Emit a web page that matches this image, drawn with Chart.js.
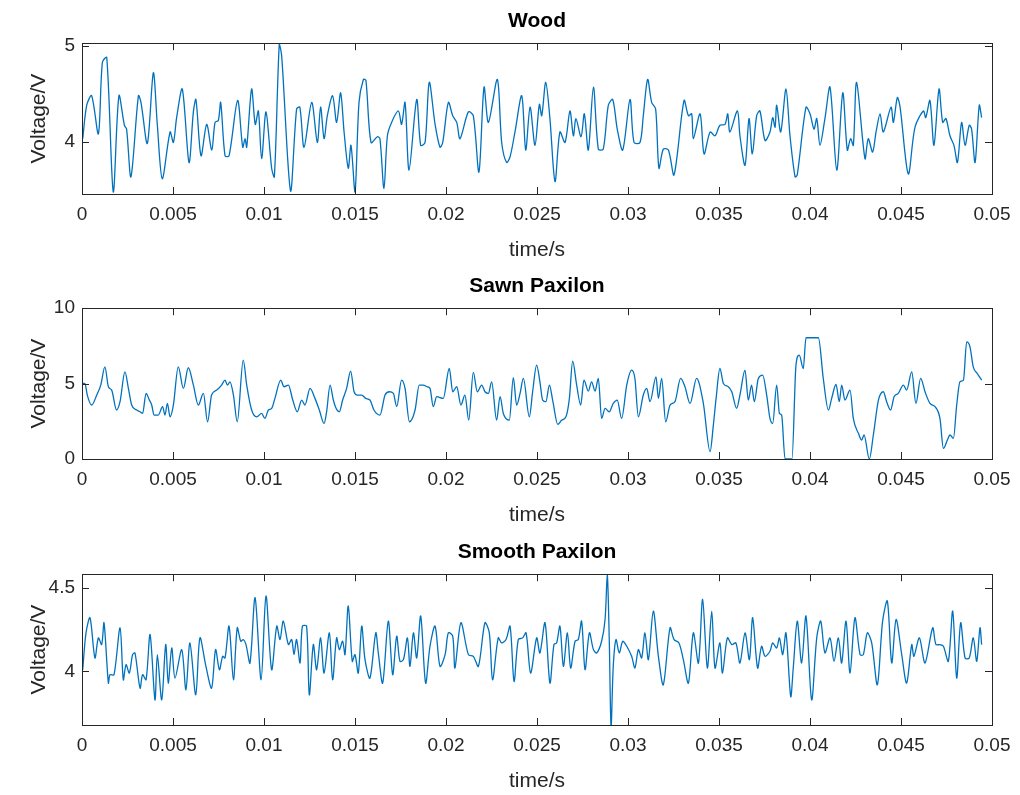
<!DOCTYPE html>
<html>
<head>
<meta charset="utf-8">
<script src="https://cdn.jsdelivr.net/npm/chart.js@4.4.1/dist/chart.umd.min.js"></script>
<style>
  html, body { margin: 0; padding: 0; background: #fff; }
  #wrap { position: relative; width: 1020px; height: 795px; }
  canvas { position: absolute; left: 0; }
</style>
</head>
<body>
<div id="wrap">
  <canvas id="woodChart" width="1020" height="265" style="top:0px"></canvas>
  <canvas id="sawnChart" width="1020" height="265" style="top:265px"></canvas>
  <canvas id="smoothChart" width="1020" height="265" style="top:531px"></canvas>
</div>
<script>
// valeurs : [temps en ms, tension en V]
const woodPoints = [
  [0.04,4.03],[0.26,4.38],[0.53,4.48],[0.90,4.08],[1.12,4.83],[1.36,4.88],[1.72,3.47],[2.03,4.48],[2.33,4.17],[2.45,4.13],
  [2.69,3.63],[3.10,4.48],[3.24,4.41],[3.59,3.98],[3.92,4.72],[4.14,4.17],[4.41,3.61],[4.84,4.10],[5.02,3.99],[5.20,4.25],
  [5.51,4.55],[5.88,3.78],[6.12,4.31],[6.26,4.44],[6.54,3.85],[6.85,4.18],[7.13,3.91],[7.31,4.20],[7.49,4.22],[7.62,4.41],
  [7.86,3.85],[8.08,3.85],[8.55,4.43],[8.83,3.94],[8.96,4.03],[9.05,3.94],[9.32,4.55],[9.52,4.18],[9.69,4.32],[9.87,3.82],
  [10.11,4.31],[10.42,3.72],[10.57,3.63],[10.84,5.02],[10.97,4.90],[11.46,3.48],[11.79,4.34],[11.97,4.36],[12.20,3.94],[12.62,4.41],
  [12.93,3.99],[13.11,4.36],[13.30,4.03],[13.48,4.27],[13.77,4.48],[13.99,4.20],[14.21,4.51],[14.40,4.10],[14.63,3.72],[14.78,3.96],
  [15.00,3.47],[15.22,4.41],[15.46,4.65],[15.60,4.64],[15.88,3.99],[16.23,4.05],[16.37,4.03],[16.59,3.51],[16.78,4.06],[17.01,4.20],
  [17.38,4.32],[17.56,4.18],[17.75,4.41],[17.97,3.70],[18.39,4.44],[18.61,3.96],[18.85,3.99],[19.08,4.62],[19.40,4.18],[19.67,3.94],
  [19.82,3.99],[20.13,4.41],[20.37,4.27],[20.59,4.20],[20.77,4.03],[21.23,4.31],[21.50,4.27],[21.81,3.68],[22.09,4.57],[22.33,4.20],
  [22.82,4.65],[23.06,3.99],[23.33,3.78],[23.52,3.84],[23.79,4.10],[24.16,4.48],[24.38,3.91],[24.62,4.36],[24.89,3.96],[25.13,4.39],
  [25.26,4.27],[25.48,4.62],[25.71,4.24],[25.99,3.58],[26.26,4.10],[26.54,3.99],[26.81,4.32],[27.00,4.06],[27.14,4.24],[27.42,4.05],
  [27.60,4.29],[27.82,3.91],[28.10,4.57],[28.37,3.92],[28.64,3.92],[28.92,4.38],[29.16,4.44],[29.41,4.13],[29.71,3.91],[30.11,4.44],
  [30.33,3.99],[30.66,3.99],[30.84,4.27],[31.08,4.65],[31.30,4.41],[31.52,4.34],[31.70,3.72],[31.94,3.92],[32.22,3.91],[32.53,3.65],
  [33.08,4.43],[33.32,4.27],[33.50,4.29],[33.59,4.03],[33.96,4.29],[34.18,3.87],[34.51,4.10],[34.78,4.06],[35.05,4.17],[35.33,4.18],
  [35.48,4.29],[35.60,4.10],[36.01,4.32],[36.15,4.06],[36.43,3.75],[36.65,4.24],[36.83,3.87],[37.07,4.27],[37.25,4.32],[37.53,4.01],
  [37.80,4.10],[37.95,4.25],[38.08,4.15],[38.17,4.38],[38.39,4.10],[38.68,4.55],[38.90,4.06],[39.18,3.63],[39.30,3.65],[39.78,4.36],
  [40.00,4.29],[40.22,4.13],[40.37,4.24],[40.55,3.96],[40.82,4.24],[41.10,4.57],[41.47,3.70],[41.80,4.51],[42.05,3.91],[42.23,4.03],
  [42.38,3.96],[42.56,4.62],[43.02,3.82],[43.20,4.03],[43.44,3.89],[43.63,4.10],[43.85,4.29],[44.03,4.10],[44.45,4.36],[44.58,4.20],
  [44.80,4.46],[44.95,4.36],[45.40,3.66],[45.77,4.15],[46.23,4.32],[46.36,4.25],[46.59,4.43],[46.81,3.96],[47.09,4.55],[47.29,4.20],
  [47.47,4.24],[47.69,4.06],[47.91,3.96],[48.10,3.78],[48.33,4.20],[48.52,3.96],[48.75,4.17],[48.88,4.13],[49.07,3.78],[49.30,4.38],
  [49.43,4.25]
];

const sawnPoints = [
  [0.04,5.01],[0.16,5.01],[0.29,4.24],[0.53,3.58],[0.81,4.24],[1.03,4.90],[1.26,6.11],[1.45,4.79],[1.63,4.57],[1.90,3.25],
  [2.09,3.80],[2.36,5.78],[2.55,4.68],[2.73,3.58],[3.00,3.25],[3.19,3.13],[3.33,3.02],[3.52,4.35],[3.70,3.91],[3.83,3.58],
  [3.96,2.91],[4.19,2.91],[4.43,3.47],[4.56,2.91],[4.69,3.69],[4.84,2.80],[5.02,3.58],[5.29,6.11],[5.57,4.68],[5.84,6.05],
  [6.12,4.90],[6.39,3.58],[6.67,4.35],[6.90,2.47],[7.12,4.24],[7.40,4.57],[7.67,4.90],[7.86,5.23],[7.99,4.90],[8.13,5.12],
  [8.32,4.24],[8.53,2.47],[8.86,6.56],[9.05,4.90],[9.32,3.25],[9.60,2.80],[9.87,3.02],[10.05,2.69],[10.24,3.25],[10.42,3.36],
  [10.60,4.02],[10.92,5.23],[11.10,4.79],[11.34,4.90],[11.58,3.91],[11.83,3.13],[12.07,3.91],[12.25,3.58],[12.53,4.68],[12.80,4.02],
  [13.04,3.25],[13.30,2.36],[13.44,3.13],[13.63,4.90],[13.81,3.91],[13.96,3.36],[14.14,3.13],[14.32,3.91],[14.54,4.68],[14.76,5.83],
  [14.95,4.46],[15.13,4.24],[15.37,4.24],[15.59,4.02],[15.82,3.91],[16.04,3.25],[16.37,2.91],[16.65,4.24],[16.89,4.46],[17.11,4.35],
  [17.29,3.47],[17.56,5.23],[17.75,4.68],[17.99,2.47],[18.30,3.25],[18.53,4.90],[18.75,4.90],[18.97,4.79],[19.12,4.68],[19.30,3.47],
  [19.49,4.13],[19.85,4.02],[20.18,6.00],[20.37,4.46],[20.59,4.79],[20.82,3.58],[21.04,4.24],[21.25,2.58],[21.50,5.74],[21.72,4.46],
  [21.96,4.90],[22.14,4.46],[22.33,4.35],[22.51,5.12],[22.78,2.58],[22.97,4.13],[23.15,3.02],[23.48,2.58],[23.70,5.39],[23.88,3.58],
  [24.07,4.35],[24.25,5.34],[24.58,2.80],[24.76,4.46],[24.98,6.23],[25.16,5.12],[25.31,3.91],[25.49,3.80],[25.68,4.90],[25.86,3.91],
  [26.14,2.30],[26.36,2.58],[26.59,2.80],[26.78,4.02],[26.96,6.49],[27.18,4.90],[27.40,3.58],[27.58,5.23],[27.82,4.50],[28.00,5.12],
  [28.19,4.50],[28.37,5.34],[28.55,2.69],[28.74,3.36],[28.97,3.13],[29.19,3.69],[29.41,3.91],[29.65,2.69],[29.93,4.90],[30.20,5.89],
  [30.38,5.34],[30.57,2.80],[30.84,4.24],[31.03,4.68],[31.21,3.80],[31.54,5.45],[31.67,4.02],[31.85,5.34],[32.07,2.47],[32.31,3.58],
  [32.58,3.80],[32.89,5.34],[33.13,4.79],[33.41,3.69],[33.77,5.34],[34.14,3.69],[34.51,0.49],[34.69,2.25],[34.84,4.02],[35.05,6.00],
  [35.24,5.01],[35.51,4.79],[35.70,4.46],[35.97,3.36],[36.15,4.24],[36.43,5.89],[36.61,3.91],[36.79,4.90],[36.94,3.80],[37.16,5.34],
  [37.40,5.56],[37.62,4.24],[37.80,2.69],[37.95,2.36],[38.17,4.90],[38.32,3.02],[38.44,2.91],[38.63,0],[39.01,0],[39.23,6.23],
  [39.41,6.89],[39.63,6.00],[39.78,8.04],[40.46,8.04],[40.73,5.34],[41.01,3.25],[41.19,4.02],[41.43,4.94],[41.61,3.80],[41.74,4.90],
  [41.92,3.91],[42.20,4.57],[42.38,2.69],[42.66,1.70],[42.84,1.26],[42.97,1.59],[43.26,0],[43.48,1.59],[43.76,3.91],[44.03,4.46],
  [44.21,3.80],[44.43,3.25],[44.62,4.13],[44.85,4.35],[45.13,4.90],[45.31,4.57],[45.59,5.78],[45.82,3.69],[46.08,5.34],[46.32,4.46],
  [46.59,3.69],[46.87,3.47],[47.14,2.69],[47.33,0.71],[47.55,1.26],[47.69,1.59],[47.88,1.37],[48.06,3.58],[48.24,5.12],[48.43,5.23],
  [48.61,7.77],[48.79,7.44],[48.97,6.11],[49.19,5.67],[49.43,5.23]
];

const smoothPoints = [
  [0.04,4.01],[0.22,4.23],[0.44,4.32],[0.71,4.08],[0.90,4.20],[1.08,4.16],[1.21,4.29],[1.45,3.93],[1.54,3.98],[1.76,3.98],
  [2.09,4.26],[2.27,3.95],[2.42,4.04],[2.60,3.99],[2.78,4.10],[2.91,4.11],[3.19,3.90],[3.33,3.98],[3.52,3.95],[3.74,4.22],
  [4.01,3.83],[4.14,4.10],[4.38,3.83],[4.60,4.16],[4.74,3.93],[4.93,4.14],[5.11,3.96],[5.48,4.13],[5.71,3.89],[5.93,4.17],
  [6.25,3.86],[6.48,4.20],[6.81,4.03],[7.12,3.90],[7.34,4.13],[7.55,4.01],[7.73,4.09],[7.86,4.08],[8.08,4.27],[8.32,3.95],
  [8.53,4.26],[8.72,4.18],[8.86,4.19],[9.01,4.16],[9.23,4.05],[9.51,4.44],[9.84,3.95],[10.11,4.45],[10.42,4.01],[10.70,4.27],
  [10.88,4.19],[11.06,4.30],[11.34,4.16],[11.52,4.19],[11.65,4.10],[11.79,4.19],[11.98,4.05],[12.11,4.27],[12.34,4.27],[12.49,3.86],
  [12.71,4.16],[12.89,4.01],[13.11,4.20],[13.30,3.99],[13.59,4.23],[13.77,3.95],[13.99,4.20],[14.14,4.13],[14.32,4.18],[14.45,4.10],
  [14.63,4.39],[14.85,4.06],[15.00,4.10],[15.18,3.99],[15.37,4.27],[15.55,4.07],[15.82,3.96],[16.14,4.23],[16.28,4.11],[16.52,3.93],
  [16.83,4.30],[17.07,3.98],[17.29,4.21],[17.47,4.06],[17.66,4.07],[17.88,4.20],[18.02,4.03],[18.21,4.23],[18.39,4.08],[18.61,4.33],
  [18.88,3.93],[19.12,4.15],[19.40,4.27],[19.67,4.03],[19.95,4.10],[20.13,4.23],[20.37,4.21],[20.49,4.02],[20.82,4.29],[21.23,4.10],
  [21.50,4.09],[21.78,4.03],[22.14,4.29],[22.38,4.23],[22.56,3.95],[22.87,4.20],[23.06,4.17],[23.30,4.19],[23.52,4.27],[23.74,3.94],
  [23.97,4.19],[24.21,4.20],[24.40,4.23],[24.65,3.99],[24.98,4.20],[25.16,4.11],[25.44,4.29],[25.71,3.93],[25.93,4.16],[26.08,4.17],
  [26.26,4.27],[26.45,4.03],[26.67,4.23],[26.85,4.02],[27.09,4.18],[27.27,4.19],[27.45,4.30],[27.64,4.01],[27.88,4.23],[28.10,4.13],
  [28.28,4.11],[28.55,4.18],[28.74,4.31],[28.86,4.58],[28.97,4.19],[29.07,3.67],[29.19,4.03],[29.34,4.19],[29.52,4.11],[29.71,4.18],
  [29.93,4.15],[30.20,4.09],[30.38,4.02],[30.57,4.13],[30.75,4.08],[30.93,4.23],[31.12,4.07],[31.39,4.36],[31.67,4.09],[31.94,3.92],
  [32.31,4.26],[32.53,4.19],[32.80,4.17],[33.04,4.07],[33.32,3.93],[33.59,4.23],[33.87,4.05],[34.10,4.43],[34.36,4.02],[34.60,4.36],
  [34.78,4.02],[35.05,4.17],[35.19,3.99],[35.46,4.20],[35.70,4.16],[35.93,4.17],[36.15,4.05],[36.43,4.23],[36.67,4.07],[36.85,4.32],
  [37.12,4.02],[37.34,4.15],[37.53,4.09],[37.80,4.12],[37.95,4.17],[38.17,4.14],[38.32,4.20],[38.50,4.10],[38.68,4.23],[38.94,3.85],
  [39.08,4.02],[39.30,4.30],[39.54,4.05],[39.78,4.33],[40.09,3.83],[40.37,4.20],[40.59,4.30],[40.82,4.11],[41.10,4.20],[41.32,4.06],
  [41.56,4.20],[41.74,4.05],[41.98,4.30],[42.20,3.99],[42.47,4.32],[42.75,4.10],[42.93,4.10],[43.15,4.23],[43.39,4.17],[43.70,3.92],
  [43.99,4.30],[44.25,4.42],[44.49,4.05],[44.73,4.31],[45.04,4.10],[45.31,3.93],[45.59,4.16],[45.71,4.09],[46.01,4.20],[46.32,4.05],
  [46.74,4.26],[46.92,4.16],[47.14,4.16],[47.33,4.15],[47.60,4.06],[47.84,4.36],[48.06,3.96],[48.28,4.29],[48.52,4.08],[48.75,4.08],
  [48.97,4.20],[49.16,4.06],[49.34,4.26],[49.43,4.16]
];

// graduations
const timeTicks = [0, 0.005, 0.01, 0.015, 0.02, 0.025, 0.03, 0.035, 0.04, 0.045, 0.05];
const woodTicks = [4, 5];
const sawnTicks = [0, 5, 10];
const smoothTicks = [4, 4.5];

const AXIS_COLOR = "#262626";
const LINE_COLOR = "#0072BD";
const FONT = "'Liberation Sans', Arial, Helvetica, sans-serif";

// cadre + graduations vers l'intérieur, façon MATLAB
const matlabBox = {
  id: "matlabBox",
  afterDatasetsDraw(chart) {
    const { ctx, chartArea: a, scales } = chart;
    const len = 7;
    ctx.save();
    ctx.strokeStyle = AXIS_COLOR;
    ctx.lineWidth = 1;
    ctx.beginPath();
    scales.x.ticks.forEach((t) => {
      const px = Math.round(scales.x.getPixelForValue(t.value)) + 0.5;
      ctx.moveTo(px, a.bottom); ctx.lineTo(px, a.bottom - len);
      ctx.moveTo(px, a.top); ctx.lineTo(px, a.top + len);
    });
    scales.y.ticks.forEach((t) => {
      const py = Math.round(scales.y.getPixelForValue(t.value)) + 0.5;
      ctx.moveTo(a.left, py); ctx.lineTo(a.left + len, py);
      ctx.moveTo(a.right, py); ctx.lineTo(a.right - len, py);
    });
    ctx.stroke();
    ctx.strokeRect(Math.round(a.left) + 0.5, Math.round(a.top) + 0.5,
      Math.round(a.right - a.left), Math.round(a.bottom - a.top));
    ctx.restore();
  }
};

function makeSubplot(canvasId, title, points, yMin, yMax, yTicks, monotone) {
  const ctx = document.getElementById(canvasId);
  return new Chart(ctx.getContext("2d"), {
    type: "line",
    data: {
      datasets: [{
        data: points.map((p) => ({ x: p[0] / 1000, y: p[1] })),
        borderColor: LINE_COLOR,
        borderWidth: 1.3,
        pointRadius: 0,
        tension: 0.3,
        cubicInterpolationMode: monotone ? "monotone" : "default",
        fill: false
      }]
    },
    options: {
      responsive: false,
      animation: false,
      layout: { padding: { left: 0, right: 28, top: 0, bottom: 0 } },
      plugins: {
        legend: { display: false },
        tooltip: { enabled: false },
        title: {
          display: true,
          fullSize: false, // centré sur la zone du graphe, pas sur le canvas
          text: title,
          color: "#000",
          font: { family: FONT, size: 21, weight: "bold", lineHeight: 1.2 },
          padding: { top: 9, bottom: 9 }
        }
      },
      scales: {
        x: {
          type: "linear",
          min: 0,
          max: 0.05,
          afterBuildTicks: (s) => { s.ticks = timeTicks.map((v) => ({ value: v })); },
          afterFit: (s) => { s.height = 71; },
          grid: { display: false, drawTicks: false },
          border: { display: false },
          ticks: {
            color: AXIS_COLOR,
            padding: 9,
            maxRotation: 0,
            autoSkip: false,
            font: { family: FONT, size: 19 },
            callback: (v) => String(+v.toFixed(3))
          },
          title: {
            display: true,
            text: "time/s",
            color: AXIS_COLOR,
            font: { family: FONT, size: 21, lineHeight: 1.2 },
            padding: { top: 0, bottom: 2 }
          }
        },
        y: {
          min: yMin,
          max: yMax,
          afterBuildTicks: (s) => { s.ticks = yTicks.map((v) => ({ value: v })); },
          afterFit: (s) => { s.width = 82; },
          grid: { display: false, drawTicks: false },
          border: { display: false },
          ticks: {
            color: AXIS_COLOR,
            padding: 7,
            font: { family: FONT, size: 19 },
            callback: (v) => String(v)
          },
          title: {
            display: true,
            text: "Voltage/V",
            color: AXIS_COLOR,
            font: { family: FONT, size: 21, lineHeight: 1.2 },
            padding: { top: 27, bottom: 0 }
          }
        }
      }
    },
    plugins: [matlabBox]
  });
}

makeSubplot("woodChart", "Wood", woodPoints, 3.45, 5.03, woodTicks, false);
makeSubplot("sawnChart", "Sawn Paxilon", sawnPoints, 0, 10, sawnTicks, true);
makeSubplot("smoothChart", "Smooth Paxilon", smoothPoints, 3.68, 4.58, smoothTicks, false);
</script>
</body>
</html>
